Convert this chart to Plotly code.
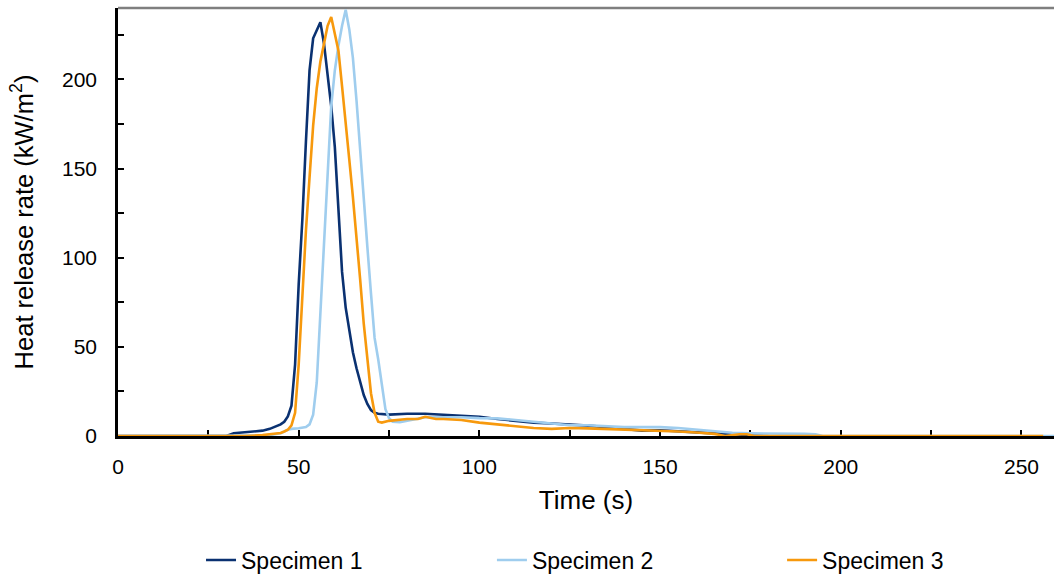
import plotly.graph_objects as go

# ---- data ----
s1_t = [0, 30, 32, 35, 38, 40, 42, 44, 45, 46, 47, 48, 49, 50, 51, 52, 53, 54, 55, 56,
        57, 58, 59, 60, 61, 62, 63, 64, 65, 66, 67, 68, 69, 70, 71, 72, 75, 78, 80, 85,
        90, 95, 100, 105, 110, 115, 120, 125, 130, 135, 140, 145, 150, 155, 160, 165,
        170, 175, 178, 180]
s1_v = [0, 0, 1.5, 2, 2.5, 3, 4, 5.5, 6.5, 8, 11, 17, 40, 85, 121, 165, 205, 223, 228, 232,
        220, 202, 185, 162, 130, 92, 72, 60, 47, 38, 31, 23, 18, 14.5, 13, 12.5, 12, 12.3, 12.5, 12.5,
        12, 11.5, 10.8, 9.5, 8.5, 7.5, 7, 6.5, 5.8, 5, 4, 3, 3.2, 2.5, 2, 1.5,
        1, 0.5, 0, 0]

s2_t = [0, 38, 40, 43, 45, 47, 48, 50, 52, 53, 54, 55, 56, 57, 58, 59, 60, 61, 62, 63,
        64, 65, 66, 67, 68, 69, 70, 71, 72, 73, 74, 75, 76, 78, 80, 85, 90, 95, 100, 105,
        110, 115, 120, 125, 130, 135, 140, 145, 150, 155, 160, 165, 170, 175, 180, 185,
        190, 193, 195, 260]
s2_v = [0, 0, 0.3, 0.8, 1.5, 3.5, 4, 4.3, 5, 6.5, 12, 30, 68, 108, 150, 185, 205, 219, 230, 239,
        228, 212, 188, 160, 130, 106, 80, 55, 43, 28, 15, 10, 8, 7.7, 8.5, 10.5, 10.5, 10.5, 10, 9.9,
        9, 8, 7, 6, 6, 5.5, 5, 5, 5, 4.5, 3.5, 2.5, 1.8, 1.5, 1.5, 1.2,
        1.2, 1, 0, 0]

s3_t = [0, 35, 40, 43, 45, 46, 47, 48, 49, 50, 51, 52, 53, 54, 55, 56, 57, 58, 59, 60,
        61, 62, 63, 64, 65, 66, 67, 68, 69, 70, 71, 72, 73, 75, 80, 83, 85, 88, 90, 95,
        100, 105, 110, 115, 120, 125, 130, 135, 140, 145, 150, 155, 160, 165, 168, 172,
        174, 176, 256]
s3_v = [0, 0, 0.5, 1.2, 1.7, 2.5, 3.5, 6, 13, 40, 80, 115, 145, 174, 195, 210, 220, 230, 235, 226,
        216, 196, 177, 155, 134, 113, 88, 63, 42, 24, 13, 8, 7.5, 8.5, 9.5, 9.5, 10.8, 9.5, 9.5, 9,
        7.5, 6.5, 5.2, 4.5, 4, 4.5, 4.3, 4, 3.5, 3.4, 3, 2.5, 2, 1.2, 0, 1,
        1, 0, 0]

names = ["Specimen 1", "Specimen 2", "Specimen 3"]
colors = ["#0a3171", "#9fcdee", "#f7990d"]
legend_ids = ["legend", "legend2", "legend3"]
legend_x = [0.0887, 0.3995, 0.7095]

FONT = "Liberation Sans, Arial, sans-serif"

fig = go.Figure()
for t, v, n, c, lg in zip([s1_t, s2_t, s3_t], [s1_v, s2_v, s3_v], names, colors, legend_ids):
    fig.add_trace(go.Scatter(x=t, y=v, mode="lines", name=n, legend=lg,
                             line=dict(color=c, width=2.6)))

legend_style = dict(orientation="h", xanchor="left", y=-0.29, yanchor="middle",
                    font=dict(size=23, family=FONT, color="black"),
                    bgcolor="rgba(0,0,0,0)")

axis_common = dict(ticks="inside", ticklen=6, tickwidth=2, tickcolor="black",
                   showline=True, linecolor="black", linewidth=2.5,
                   showgrid=False, zeroline=False, layer="below traces",
                   automargin=False,
                   tickfont=dict(size=21, family=FONT, color="black"))

fig.update_layout(
    width=1054, height=580,
    margin=dict(l=118, r=0, t=8, b=144, autoexpand=False),
    plot_bgcolor="white", paper_bgcolor="white",
    font=dict(family=FONT, color="black", size=21),
    showlegend=True,
    legend=dict(x=legend_x[0], **legend_style),
    legend2=dict(x=legend_x[1], **legend_style),
    legend3=dict(x=legend_x[2], **legend_style),
    xaxis=dict(range=[0, 259], tick0=0, dtick=50, ticklabelstandoff=10,
               minor=dict(dtick=25, ticks="inside", ticklen=6, tickwidth=2, tickcolor="black",
                          showgrid=False),
               title=dict(text="Time (s)", font=dict(size=26, family=FONT, color="black"),
                          standoff=14),
               **axis_common),
    yaxis=dict(range=[0, 240], tick0=0, dtick=50, ticklabelstandoff=14,
               minor=dict(dtick=25, ticks="inside", ticklen=6, tickwidth=2, tickcolor="black",
                          showgrid=False),
               title=dict(text="Heat release rate (kW/m<sup>2</sup>)",
                          font=dict(size=25.5, family=FONT, color="black"),
                          standoff=22),
               **axis_common),
    shapes=[dict(type="line", xref="paper", yref="paper", x0=0, x1=1, y0=1, y1=1,
                 line=dict(color="#7f7f7f", width=2.5), layer="below")],
)

fig.write_html("out.html", config={"displayModeBar": False},
               post_script="document.body.style.margin='0';")
